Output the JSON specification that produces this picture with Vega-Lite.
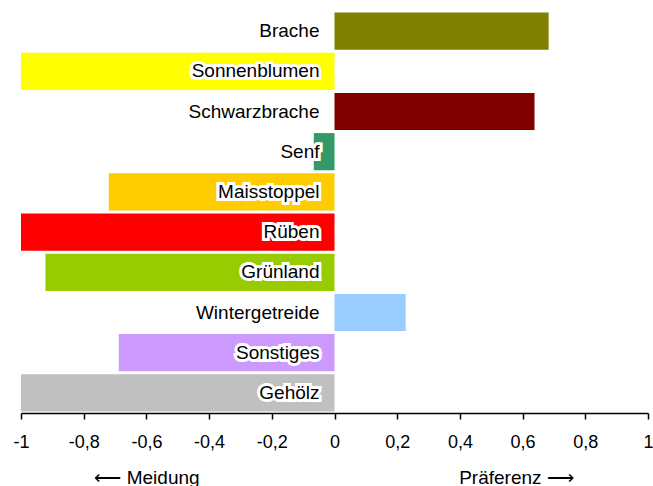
{
  "$schema": "https://vega.github.io/schema/vega-lite/v6.json",
  "width": 627,
  "height": 402,
  "autosize": {"type": "none"},
  "padding": {"left": 21, "top": 11, "right": 5, "bottom": 73},
  "background": "white",
  "config": {
    "view": {"stroke": null},
    "font": "Liberation Sans",
    "axis": {"grid": false}
  },
  "data": {
    "values": [
      {"kategorie": "Brache", "wert": 0.683},
      {"kategorie": "Sonnenblumen", "wert": -1},
      {"kategorie": "Schwarzbrache", "wert": 0.638},
      {"kategorie": "Senf", "wert": -0.066},
      {"kategorie": "Maisstoppel", "wert": -0.72},
      {"kategorie": "Rüben", "wert": -1},
      {"kategorie": "Grünland", "wert": -0.922},
      {"kategorie": "Wintergetreide", "wert": 0.227},
      {"kategorie": "Sonstiges", "wert": -0.688},
      {"kategorie": "Gehölz", "wert": -1}
    ]
  },
  "encoding": {
    "y": {
      "field": "kategorie",
      "type": "nominal",
      "sort": null,
      "axis": null,
      "scale": {"paddingInner": 0.075, "paddingOuter": 0.0375}
    }
  },
  "layer": [
    {
      "mark": {"type": "bar"},
      "encoding": {
        "x": {
          "field": "wert",
          "type": "quantitative",
          "scale": {"domain": [-1, 1], "nice": false},
          "axis": {
            "values": [-1, -0.8, -0.6, -0.4, -0.2, 0, 0.2, 0.4, 0.6, 0.8, 1],
            "labelExpr": "replace(toString(datum.value), '.', ',')",
            "labelFont": "Liberation Sans",
            "labelFontSize": 18,
            "labelColor": "#000000",
            "labelPadding": 14,
            "labelFlush": false,
            "tickSize": 6,
            "tickColor": "#000000",
            "tickWidth": 1.5,
            "domainColor": "#000000",
            "domainWidth": 1.5,
            "title": "⟵ Meidung",
            "titleFont": "Liberation Sans",
            "titleFontSize": 19,
            "titleFontWeight": "normal",
            "titleColor": "#000000",
            "titleX": 125.5,
            "titleY": 70,
            "titleAlign": "center",
            "titleAnchor": null,
            "titleBaseline": "alphabetic"
          }
        },
        "color": {
          "field": "kategorie",
          "type": "nominal",
          "legend": null,
          "scale": {
            "domain": ["Brache", "Sonnenblumen", "Schwarzbrache", "Senf", "Maisstoppel", "Rüben", "Grünland", "Wintergetreide", "Sonstiges", "Gehölz"],
            "range": ["#808000", "#FFFF00", "#800000", "#339966", "#FFCC00", "#FF0000", "#99CC00", "#99CCFF", "#CC99FF", "#C0C0C0"]
          }
        }
      }
    },
    {
      "mark": {"type": "rule", "color": "#000000", "strokeWidth": 2},
      "encoding": {
        "x": {
          "datum": 0,
          "type": "quantitative",
          "axis": {
            "labels": false,
            "ticks": false,
            "domain": false,
            "orient": "bottom",
            "title": "Präferenz ⟶",
            "titleFont": "Liberation Sans",
            "titleFontSize": 19,
            "titleFontWeight": "normal",
            "titleColor": "#000000",
            "titleX": 495,
            "titleY": 70,
            "titleAlign": "center",
            "titleAnchor": null,
            "titleBaseline": "alphabetic"
          }
        }
      }
    },
    {
      "mark": {"type": "text", "align": "right", "baseline": "middle", "dx": -15, "font": "Liberation Sans", "fontSize": 19, "stroke": "#FFFFFF", "strokeWidth": 6, "strokeJoin": "miter", "fill": "#FFFFFF"},
      "encoding": {
        "x": {"datum": 0, "type": "quantitative", "axis": null},
        "text": {"field": "kategorie"}
      }
    },
    {
      "mark": {"type": "text", "align": "right", "baseline": "middle", "dx": -15, "font": "Liberation Sans", "fontSize": 19, "fill": "#000000"},
      "encoding": {
        "x": {"datum": 0, "type": "quantitative", "axis": null},
        "text": {"field": "kategorie"}
      }
    }
  ],
  "resolve": {"axis": {"x": "independent"}}
}
